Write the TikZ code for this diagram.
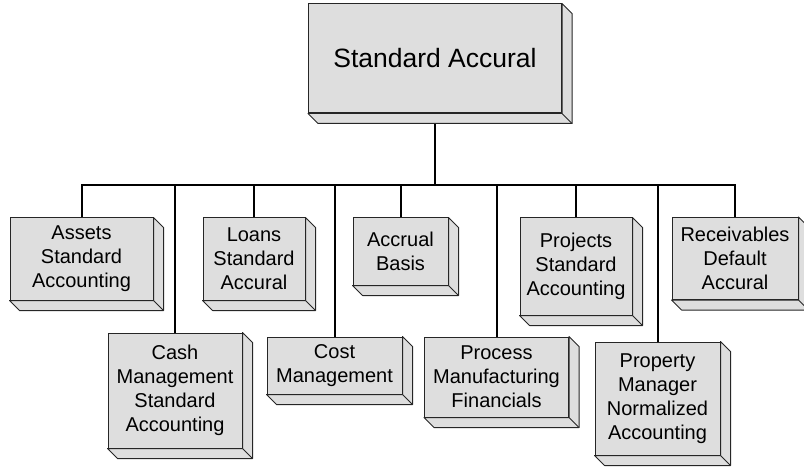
\documentclass[tikz,border=0pt]{standalone}
\usepackage{fontspec}
\setmainfont{Liberation Sans}
\begin{document}
\begin{tikzpicture}[x=1pt, y=-1pt,
        box/.style={draw=black!85, fill=black!13, align=center, inner sep=0pt,
                line width=1pt, font=\fontsize{20}{24}\selectfont},
        side/.style={draw=black!85, fill=black!13, line width=1pt, line join=round},
        wire/.style={line width=2pt}]
        \useasboundingbox (0, 0) rectangle (804, 468);
        % top
        \node[box, minimum width=253, minimum height=109,
                font=\fontsize{26.5}{32}\selectfont] (root) at (435, 58.5) {Standard Accural};
        \coordinate (bus) at (0, 185);
        % first row
        \node[box, minimum width=143, minimum height=82] (assets) at (81.5, 259) {Assets\\Standard\\Accounting};
        \node[box, minimum width=102, minimum height=82] (loans) at (254, 259) {Loans\\Standard\\Accural};
        \node[box, minimum width=95, minimum height=67] (basis) at (400.5, 251.5) {Accrual\\Basis};
        \node[box, minimum width=112, minimum height=97] (projects) at (576, 266.5) {Projects\\Standard\\Accounting};
        \node[box, minimum width=126, minimum height=82] (receiv) at (735, 258.5) {Receivables\\Default\\Accural};
        % second row
        \node[box, minimum width=134, minimum height=115] (cash) at (175, 390.5) {Cash\\Management\\Standard\\Accounting};
        \node[box, minimum width=135, minimum height=57] (cost) at (334.5, 365.5) {Cost\\Management};
        \node[box, minimum width=144, minimum height=80] (process) at (496.5, 377) {Process\\Manufacturing\\Financials};
        \node[box, minimum width=125, minimum height=113] (property) at (657.5, 398.5) {Property\\Manager\\Normalized\\Accounting};
        % connectors
        \draw[wire] (assets.north) -- (assets.north |- bus) -- (receiv.north |- bus) -- (receiv.north);
        \draw[wire] (root.south) -- (root.south |- bus);
        \foreach \n in {loans, basis, projects, cash, cost, process, property} {
                \draw[wire] (\n.north) -- (\n.north |- bus);
            }
        % 3d sides
        \foreach \n in {root, assets, loans, basis, projects, receiv, cash, cost, process, property} {
                \filldraw[side] (\n.north east) -- ([shift={(10, 10)}]\n.north east)
                        -- ([shift={(10, 10)}]\n.south east) -- ([shift={(10, 10)}]\n.south west)
                        -- (\n.south west) -- (\n.south east) -- cycle;
                \draw[side] (\n.south east) -- ++(10, 10);
            }
    \end{tikzpicture}
\end{document}
